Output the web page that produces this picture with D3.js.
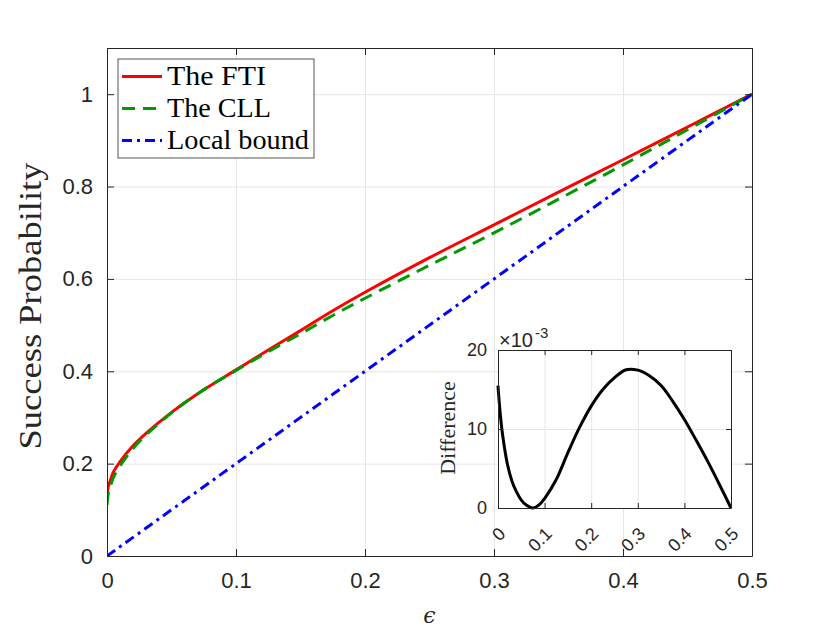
<!DOCTYPE html>
<html lang="en">
<head>
<meta charset="UTF-8">
<title>Success probability</title>
<style>
	body { margin: 0; background: #fff; }
	svg { display: block; }
	.tick text { font-family: "Liberation Sans", Arial, sans-serif; fill: #262626; }
</style>
</head>
<body>
<script src="https://d3js.org/d3.v7.min.js"></script>
<script>
// epsilon values shared by the two main curves
var eps = [0, 0.001, 0.0025, 0.005, 0.01, 0.02, 0.03, 0.05, 0.075, 0.1, 0.125, 0.15, 0.175, 0.2, 0.25, 0.3, 0.35, 0.4, 0.45, 0.5];
var fti = [0.126, 0.150, 0.163, 0.182, 0.204, 0.238, 0.265, 0.311, 0.360, 0.403, 0.446, 0.488, 0.531, 0.571, 0.646, 0.717, 0.788, 0.858, 0.929, 1.0];
var cll = [0.1105, 0.1354, 0.1495, 0.1702, 0.1948, 0.2324, 0.2616, 0.310, 0.360, 0.4018, 0.4424, 0.481, 0.5208, 0.5581, 0.6295, 0.6996, 0.7726, 0.8468, 0.9231, 1.0];
var localX = [0, 0.1, 0.2, 0.3, 0.4, 0.5];
var localY = [0, 0.2, 0.4, 0.6, 0.8, 1.0];

// inset: difference (x 10^-3)
var diffX = [0, 0.001, 0.0025, 0.005, 0.01, 0.02, 0.03, 0.04, 0.05, 0.06, 0.075, 0.09, 0.1, 0.125, 0.15, 0.175, 0.2, 0.225, 0.25, 0.275, 0.3, 0.325, 0.35, 0.375, 0.4, 0.425, 0.45, 0.475, 0.5];
var diffY = [15.5, 14.6, 13.5, 11.8, 9.2, 5.6, 3.4, 2.0, 1.0, 0.4, 0.0, 0.5, 1.2, 3.6, 7.0, 10.2, 12.9, 15.0, 16.5, 17.5, 17.45, 16.75, 15.5, 13.5, 11.2, 8.6, 5.9, 3.0, 0.0];

var xTicks = [0, 0.1, 0.2, 0.3, 0.4, 0.5];
var yTicks = [0, 0.2, 0.4, 0.6, 0.8, 1];
var insetYTicks = [0, 10, 20];

var legendNames = ["The FTI", "The CLL", "Local bound"];
var legendWidths = [99, 104, 142];
var colors = ["#ff0000", "#009a00", "#0000ff"];
var dashes = [null, "13,8", "10,5,3,5"];

var w = 830, h = 636;
var mLeft = 107, mRight = 752, mTop = 48, mBottom = 556;
var axisColor = "#262626", gridColor = "#e6e6e6";
var fmt = d3.format("~g");

var svg = d3.select("body").append("svg")
	.attr("width", w)
	.attr("height", h);

var x = d3.scaleLinear().domain([0, 0.5]).range([mLeft, mRight]);
var y = d3.scaleLinear().domain([0, 1.1]).range([mBottom, mTop]);

// grid
svg.append("g")
	.attr("transform", "translate(0," + mBottom + ")")
	.call(d3.axisBottom(x).tickValues(xTicks).tickSize(-(mBottom - mTop)).tickFormat(""))
	.call(function(g) { g.select(".domain").remove(); g.selectAll("line").attr("stroke", gridColor); });
svg.append("g")
	.attr("transform", "translate(" + mLeft + ",0)")
	.call(d3.axisLeft(y).tickValues(yTicks).tickSize(-(mRight - mLeft)).tickFormat(""))
	.call(function(g) { g.select(".domain").remove(); g.selectAll("line").attr("stroke", gridColor); });

svg.append("clipPath").attr("id", "clip")
	.append("rect").attr("x", mLeft).attr("y", mTop).attr("width", mRight - mLeft).attr("height", mBottom - mTop);

var line = d3.line()
	.x(function(d) { return x(d[0]); })
	.y(function(d) { return y(d[1]); })
	.curve(d3.curveCatmullRom);

var series = [
	d3.zip(eps, fti),
	d3.zip(eps, cll),
	d3.zip(localX, localY)
];

svg.append("g").attr("clip-path", "url(#clip)")
	.selectAll("path")
	.data(series)
	.enter()
	.append("path")
	.attr("d", line)
	.attr("fill", "none")
	.attr("stroke", function(d, i) { return colors[i]; })
	.attr("stroke-width", 3)
	.attr("stroke-dasharray", function(d, i) { return dashes[i]; });

// axes, ticks inward on all four sides
function styleAxis(g) {
	g.select(".domain").attr("stroke", axisColor);
	g.selectAll(".tick line").attr("stroke", axisColor);
}
svg.append("g")
	.attr("transform", "translate(0," + mBottom + ")")
	.call(d3.axisBottom(x).tickValues(xTicks).tickSizeInner(-7).tickSizeOuter(0).tickPadding(16).tickFormat(fmt))
	.call(styleAxis)
	.selectAll("text").attr("font-size", 22);
svg.append("g")
	.attr("transform", "translate(" + mLeft + ",0)")
	.call(d3.axisLeft(y).tickValues(yTicks).tickSizeInner(-7).tickSizeOuter(0).tickPadding(14).tickFormat(fmt))
	.call(styleAxis)
	.selectAll("text").attr("font-size", 22);
svg.append("g")
	.attr("transform", "translate(0," + mTop + ")")
	.call(d3.axisTop(x).tickValues(xTicks).tickSizeInner(-7).tickSizeOuter(0).tickFormat(""))
	.call(styleAxis);
svg.append("g")
	.attr("transform", "translate(" + mRight + ",0)")
	.call(d3.axisRight(y).tickValues(yTicks).tickSizeInner(-7).tickSizeOuter(0).tickFormat(""))
	.call(styleAxis);

// axis labels
svg.append("text")
	.attr("transform", "translate(41,306) rotate(-90)")
	.attr("text-anchor", "middle")
	.attr("font-family", "'Liberation Serif', 'Times New Roman', serif")
	.attr("font-size", 31)
	.attr("textLength", 287)
	.attr("lengthAdjust", "spacingAndGlyphs")
	.attr("fill", axisColor)
	.text("Success Probability");
svg.append("text")
	.attr("x", (mLeft + mRight) / 2)
	.attr("y", 623)
	.attr("text-anchor", "middle")
	.attr("font-family", "'DejaVu Serif', serif")
	.attr("font-style", "italic")
	.attr("font-size", 22)
	.attr("fill", axisColor)
	.text("\u03f5");

// legend
var legend = svg.append("g");
legend.append("rect")
	.attr("x", 118).attr("y", 59).attr("width", 196).attr("height", 99)
	.attr("fill", "#fff").attr("stroke", "#555").attr("stroke-width", 1);
var rowY = [76.5, 108.5, 140.5];
var rows = legend.selectAll("g.row")
	.data(legendNames)
	.enter()
	.append("g")
	.attr("class", "row")
	.attr("transform", function(d, i) { return "translate(0," + rowY[i] + ")"; });
rows.append("line")
	.attr("x1", 122).attr("x2", 162)
	.attr("stroke", function(d, i) { return colors[i]; })
	.attr("stroke-width", 3)
	.attr("stroke-dasharray", function(d, i) { return dashes[i]; });
rows.append("text")
	.attr("x", 167)
	.attr("y", 8)
	.attr("font-family", "'Liberation Serif', 'Times New Roman', serif")
	.attr("font-size", 27)
	.attr("textLength", function(d, i) { return legendWidths[i]; })
	.attr("lengthAdjust", "spacingAndGlyphs")
	.attr("fill", "#000")
	.text(function(d) { return d; });

// inset
var iLeft = 498, iRight = 731, iTop = 350, iBottom = 508;
var ix = d3.scaleLinear().domain([0, 0.5]).range([iLeft, iRight]);
var iy = d3.scaleLinear().domain([0, 20]).range([iBottom, iTop]);
var inset = svg.append("g");
inset.append("rect")
	.attr("x", iLeft).attr("y", iTop).attr("width", iRight - iLeft).attr("height", iBottom - iTop)
	.attr("fill", "#fff");
inset.append("g")
	.attr("transform", "translate(0," + iBottom + ")")
	.call(d3.axisBottom(ix).tickValues(xTicks).tickSize(-(iBottom - iTop)).tickFormat(""))
	.call(function(g) { g.select(".domain").remove(); g.selectAll("line").attr("stroke", gridColor); });
inset.append("g")
	.attr("transform", "translate(" + iLeft + ",0)")
	.call(d3.axisLeft(iy).tickValues(insetYTicks).tickSize(-(iRight - iLeft)).tickFormat(""))
	.call(function(g) { g.select(".domain").remove(); g.selectAll("line").attr("stroke", gridColor); });

var diffLine = d3.line()
	.x(function(d) { return ix(d[0]); })
	.y(function(d) { return iy(d[1]); })
	.curve(d3.curveCatmullRom);
inset.append("path")
	.datum(d3.zip(diffX, diffY))
	.attr("d", diffLine)
	.attr("fill", "none")
	.attr("stroke", "#000")
	.attr("stroke-width", 3);

var ixAxis = inset.append("g")
	.attr("transform", "translate(0," + iBottom + ")")
	.call(d3.axisBottom(ix).tickValues(xTicks).tickSizeInner(-5).tickSizeOuter(0).tickFormat(fmt))
	.call(styleAxis);
ixAxis.selectAll(".tick text")
	.attr("font-size", 18)
	.attr("text-anchor", "end")
	.attr("dy", null)
	.attr("y", null)
	.attr("transform", "translate(8,27) rotate(-45)");
inset.append("g")
	.attr("transform", "translate(" + iLeft + ",0)")
	.call(d3.axisLeft(iy).tickValues(insetYTicks).tickSizeInner(-5).tickSizeOuter(0).tickPadding(11).tickFormat(fmt))
	.call(styleAxis)
	.selectAll("text").attr("font-size", 18);
inset.append("g")
	.attr("transform", "translate(0," + iTop + ")")
	.call(d3.axisTop(ix).tickValues(xTicks).tickSizeInner(-5).tickSizeOuter(0).tickFormat(""))
	.call(styleAxis);
inset.append("g")
	.attr("transform", "translate(" + iRight + ",0)")
	.call(d3.axisRight(iy).tickValues(insetYTicks).tickSizeInner(-5).tickSizeOuter(0).tickFormat(""))
	.call(styleAxis);

// exponent label
var expo = inset.append("text")
	.attr("x", iLeft + 1)
	.attr("y", iTop - 3)
	.attr("font-family", "'Liberation Sans', Arial, sans-serif")
	.attr("font-size", 20)
	.attr("fill", axisColor);
expo.append("tspan").text("\u00d710");
expo.append("tspan").attr("dx", 2).attr("dy", -9).attr("font-size", 15).text("-3");

inset.append("text")
	.attr("transform", "translate(455,428) rotate(-90)")
	.attr("text-anchor", "middle")
	.attr("font-family", "'Liberation Serif', 'Times New Roman', serif")
	.attr("font-size", 22)
	.attr("fill", axisColor)
	.text("Difference");
</script>
</body>
</html>
